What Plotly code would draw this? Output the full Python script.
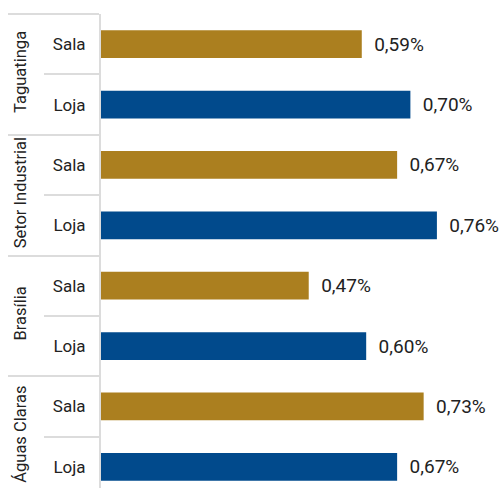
import plotly.graph_objects as go

groups = ["Taguatinga", "Setor Industrial", "Brasília", "Águas Claras"]
subcats = ["Sala", "Loja"]
sala_values = [0.59, 0.67, 0.47, 0.73]
loja_values = [0.70, 0.76, 0.60, 0.67]

gold = "#AB7F1F"
blue = "#014A8C"
line_grey = "#dcdcdc"
text_col = "#222222"

n_sub = len(subcats)
# slot positions derived from the group / subcategory order
sala_pos = [g * n_sub + subcats.index("Sala") for g in range(len(groups))]
loja_pos = [g * n_sub + subcats.index("Loja") for g in range(len(groups))]
all_pos = list(range(len(groups) * n_sub))
all_text = [subcats[p % n_sub] for p in all_pos]
group_centers = [g * n_sub + (n_sub - 1) / 2 for g in range(len(groups))]
sub_bounds = [p - 0.5 for p in range(len(all_pos) + 1)]
group_bounds = [g * n_sub - 0.5 for g in range(len(groups) + 1)]
y_range = [len(all_pos) - 0.5, -0.5]
bar_w = 0.46

fig = go.Figure()
fig.add_trace(go.Bar(
    y=sala_pos, x=sala_values, orientation="h", width=bar_w,
    marker=dict(color=gold, line=dict(width=0)),
    texttemplate="\u00a0\u00a0%{x:.2f}%", textposition="outside",
    textfont=dict(size=19, color=text_col), cliponaxis=False, name="Sala"))
fig.add_trace(go.Bar(
    y=loja_pos, x=loja_values, orientation="h", width=bar_w,
    marker=dict(color=blue, line=dict(width=0)),
    texttemplate="\u00a0\u00a0%{x:.2f}%", textposition="outside",
    textfont=dict(size=19, color=text_col), cliponaxis=False, name="Loja"))
# invisible trace so that the group axis is drawn
fig.add_trace(go.Scatter(x=[None], y=[None], yaxis="y2", showlegend=False,
                         hoverinfo="skip"))

fig.update_layout(
    width=501, height=497,
    margin=dict(l=101, r=0, t=14, b=0, autoexpand=False),
    barmode="overlay",
    separators=",.",
    showlegend=False,
    plot_bgcolor="white", paper_bgcolor="white",
    font=dict(family="Roboto", size=16, color=text_col),
    xaxis=dict(range=[0, 0.905], visible=False, fixedrange=True),
    yaxis=dict(range=y_range, showline=True, linecolor=line_grey, linewidth=2,
               tickmode="array", tickvals=all_pos, ticktext=all_text,
               ticks="", showgrid=False, zeroline=False, automargin=False,
               ticklabelstandoff=10,
               minor=dict(tickmode="array", tickvals=sub_bounds, ticks="outside",
                          ticklen=55, tickcolor=line_grey, tickwidth=2, showgrid=False),
               tickfont=dict(family="Roboto", size=17, color=text_col)),
    yaxis2=dict(range=y_range, overlaying="y", anchor="free", position=0, side="left",
                shift=-55, showline=False, showgrid=False, zeroline=False,
                tickmode="array", tickvals=group_centers, ticktext=groups,
                tickangle=-90, ticks="", automargin=False,
                ticklabelstandoff=17,
                minor=dict(tickmode="array", tickvals=group_bounds, ticks="outside",
                           ticklen=38, tickcolor=line_grey, tickwidth=2, showgrid=False),
                tickfont=dict(family="Roboto", size=16.5, color=text_col)),
)

fig.write_html("out.html")
